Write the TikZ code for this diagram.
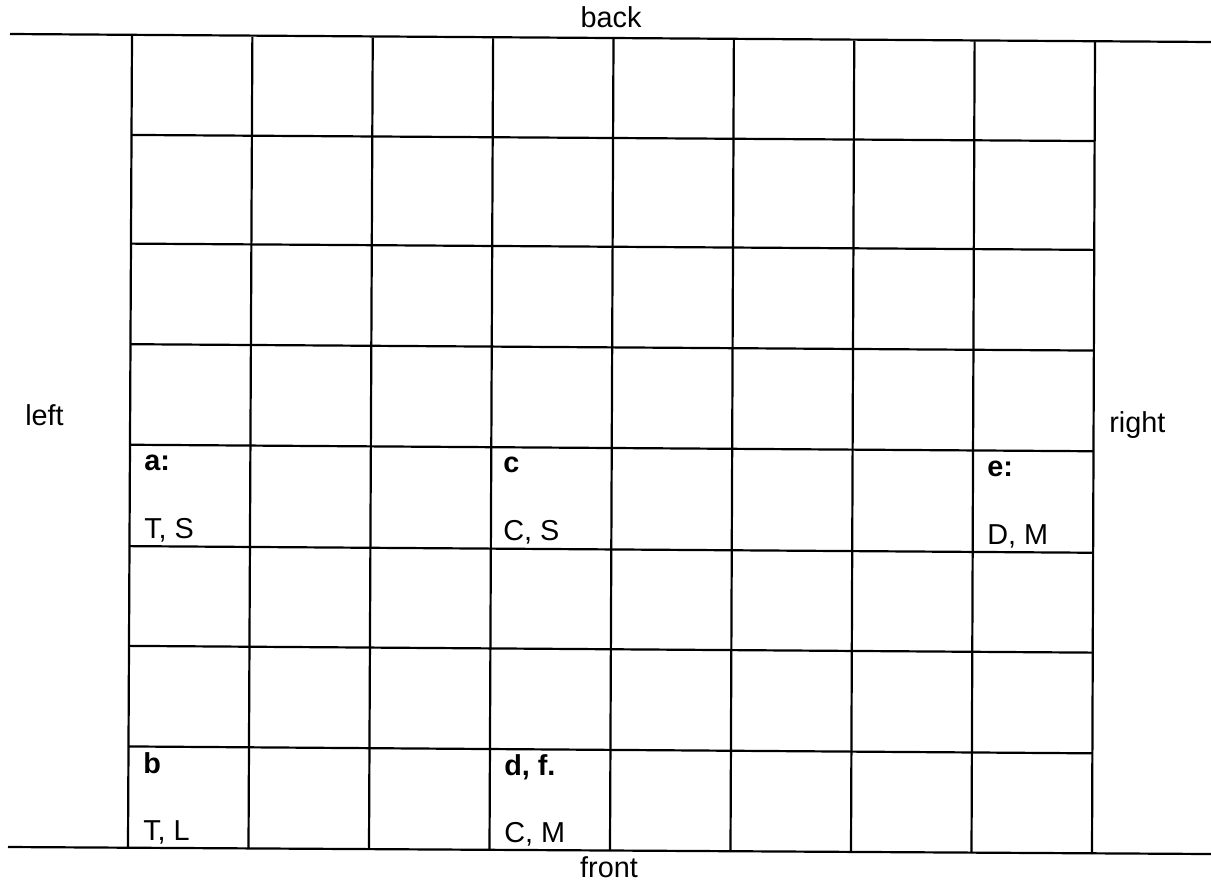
\documentclass[tikz,border=0pt]{standalone}
\usepackage{fontspec}
\setmainfont{Liberation Sans}
\usetikzlibrary{calc}
\begin{document}
\begin{tikzpicture}[x=0.25mm,y=-0.25mm,
  gridline/.style={line width=0.55mm},
  lbl/.style={anchor=base west, inner sep=0pt, font=\fontsize{20.5}{24}\selectfont},
  blbl/.style={anchor=base west, inner sep=0pt, font=\fontsize{20.5}{24}\selectfont\bfseries},
  side/.style={anchor=base, inner sep=0pt, font=\fontsize{20.5}{24}\selectfont}]
\useasboundingbox (0,0) rectangle (1211,881);
\coordinate (TL) at (132,36);
\coordinate (TR) at (1095,42);
\coordinate (BL) at (128,847);
\coordinate (BR) at (1092,854);
\coordinate (OL) at (10,34);
\coordinate (OR) at (1211,42);
\coordinate (BOL) at (8,847);
\coordinate (BOR) at (1211,854);
\draw[gridline] (OL) -- (OR);
\draw[gridline] (BOL) -- (BOR);
\foreach \f in {0.122,0.256,0.380,0.504,0.629,0.752,0.876}
  \draw[gridline] ($(TL)!\f!(BL)$) -- ($(TR)!\f!(BR)$);
\foreach \i in {0,...,8}
  \draw[gridline] ($(TL)!\i/8!(TR)$) -- ($(BL)!\i/8!(BR)$);
\node[blbl] (la) at (144,470) {a:};
\node[lbl] (la2) at (144,538) {T, S};
\node[blbl] (lc) at (503,472) {c};
\node[lbl] (lc2) at (503,540) {C, S};
\node[blbl] (le) at (987,476) {e:};
\node[lbl] (le2) at (987,544) {D, M};
\node[blbl] (lb) at (143,773) {b};
\node[lbl] (lb2) at (143,840) {T, L};
\node[blbl] (ld) at (504,775) {d, f.};
\node[lbl] (ld2) at (504,842) {C, M};
\node[side] (back) at (611,27) {back};
\node[side] (front) at (609,877) {front};
\node[lbl] (left) at (25,425) {left};
\node[lbl] (right) at (1109,432) {right};
\end{tikzpicture}
\end{document}
